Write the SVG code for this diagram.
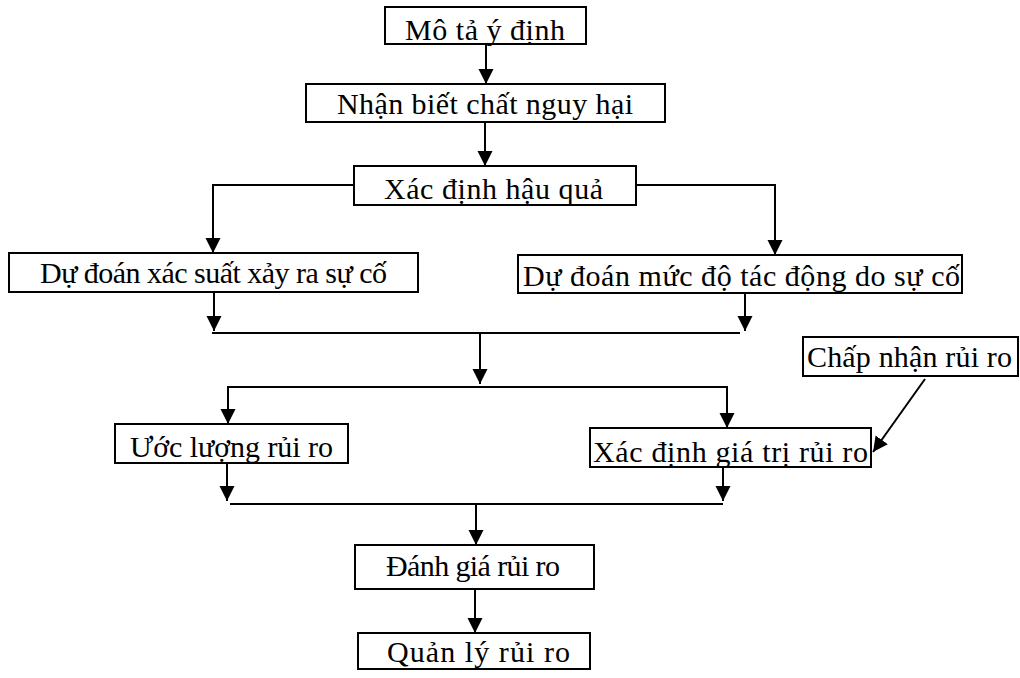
<svg xmlns="http://www.w3.org/2000/svg" width="1020" height="678" viewBox="0 0 1020 678">
<defs>
<style>
.box{fill:#fff;stroke:#000;stroke-width:2}
.t{font-family:"Liberation Serif","Times New Roman",serif;font-size:30px;fill:#000}
.c{fill:none;stroke:#000;stroke-width:2}
</style>
<marker id="ah" markerUnits="userSpaceOnUse" markerWidth="16" markerHeight="16" refX="15" refY="7.5" orient="auto" viewBox="0 0 16 16">
<path d="M0,0 L15,7.5 L0,15 Z" fill="#000"/>
</marker>
</defs>
<rect width="1020" height="678" fill="#fff"/>
<g id="connectors">
<line class="c" x1="486" y1="44" x2="486" y2="84" marker-end="url(#ah)"/>
<line class="c" x1="485" y1="122" x2="485" y2="166" marker-end="url(#ah)"/>
<polyline class="c" points="354,185 213,185 213,253" marker-end="url(#ah)"/>
<polyline class="c" points="636,185 775,185 775,255" marker-end="url(#ah)"/>
<line class="c" x1="214" y1="292" x2="214" y2="331" marker-end="url(#ah)"/>
<line class="c" x1="745" y1="293" x2="745" y2="331" marker-end="url(#ah)"/>
<line class="c" x1="212" y1="333" x2="740" y2="333"/>
<line class="c" x1="480" y1="333" x2="480" y2="384" marker-end="url(#ah)"/>
<polyline class="c" points="228,424 228,387 727,387 727,428" marker-end="url(#ah)"/>
<line class="c" x1="228" y1="387" x2="228" y2="424" marker-end="url(#ah)"/>
<line class="c" x1="925" y1="379" x2="873" y2="452" marker-end="url(#ah)"/>
<line class="c" x1="227" y1="463" x2="227" y2="501" marker-end="url(#ah)"/>
<line class="c" x1="723" y1="467" x2="723" y2="501" marker-end="url(#ah)"/>
<line class="c" x1="230" y1="504" x2="723" y2="504"/>
<line class="c" x1="476" y1="504" x2="476" y2="545" marker-end="url(#ah)"/>
<line class="c" x1="475" y1="589" x2="475" y2="633" marker-end="url(#ah)"/>
</g>
<g id="n1"><rect class="box" x="385" y="7" width="201" height="37"/><text class="t" x="405" y="40" textLength="160" lengthAdjust="spacing">Mô tả ý định</text></g>
<g id="n2"><rect class="box" x="306" y="84" width="359" height="38"/><text class="t" x="337" y="114" textLength="296" lengthAdjust="spacing">Nhận biết chất nguy hại</text></g>
<g id="n3"><rect class="box" x="354" y="166" width="282" height="39"/><text class="t" x="384" y="199" textLength="219" lengthAdjust="spacing">Xác định hậu quả</text></g>
<g id="n4"><rect class="box" x="9" y="253" width="409" height="39"/><text class="t" x="40" y="283" font-size="28" textLength="347" lengthAdjust="spacing">Dự đoán xác suất xảy ra sự cố</text></g>
<g id="n5"><rect class="box" x="518" y="255" width="444" height="38"/><text class="t" x="523" y="286" textLength="437" lengthAdjust="spacing">Dự đoán mức độ tác động do sự cố</text></g>
<g id="n6"><rect class="box" x="115" y="424" width="233" height="39"/><text class="t" x="130" y="457" textLength="203" lengthAdjust="spacing">Ước lượng rủi ro</text></g>
<g id="n7"><rect class="box" x="590" y="428" width="281" height="39"/><text class="t" x="593" y="462" textLength="275" lengthAdjust="spacing">Xác định giá trị rủi ro</text></g>
<g id="n8"><rect class="box" x="803" y="337" width="215" height="39"/><text class="t" x="807" y="367" textLength="205" lengthAdjust="spacing">Chấp nhận rủi ro</text></g>
<g id="n9"><rect class="box" x="355" y="545" width="239" height="44"/><text class="t" x="386" y="576" font-size="28" textLength="174" lengthAdjust="spacing">Đánh giá rủi ro</text></g>
<g id="n10"><rect class="box" x="358" y="633" width="232" height="36"/><text class="t" x="387" y="662" font-size="29" textLength="183" lengthAdjust="spacing">Quản lý rủi ro</text></g>
</svg>
